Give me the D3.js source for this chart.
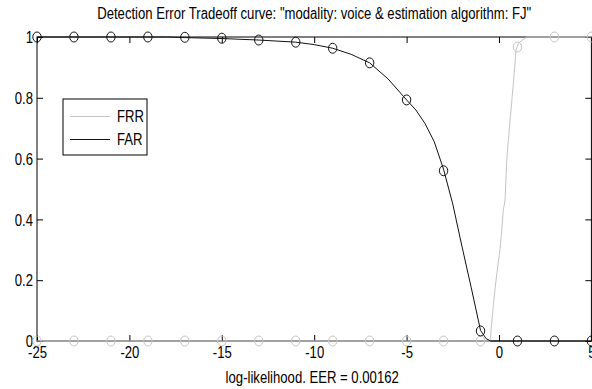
<!DOCTYPE html>
<html><head><meta charset="utf-8">
<script src="https://cdn.jsdelivr.net/npm/d3@7"></script>
<style>
body{margin:0;background:#fff;}
svg{display:block;}
text{font-family:"Liberation Sans",Arial,Helvetica,sans-serif;fill:#000;}
</style></head><body>
<svg id="c" width="592" height="389"></svg>
<script>
// ---------- data ----------
const xTicks = [-25, -20, -15, -10, -5, 0, 5];
const xTickLabels = ["-25", "-20", "-15", "-10", "-5", "0", "5"];
const yTicks = [0, 0.2, 0.4, 0.6, 0.8, 1];
const yTickLabels = ["0", "0.2", "0.4", "0.6", "0.8", "1"];
const seriesNames = ["FRR", "FAR"];

// FAR curve (black)
const farX = [-25, -18, -17, -15, -13, -11, -10, -9, -8, -7, -6, -5, -4.5, -4, -3.5, -3, -2.5, -2, -1.5, -1, -0.7, -0.45, 5];
const farY = [1, 1, 0.998, 0.995, 0.990, 0.983, 0.975, 0.963, 0.943, 0.915, 0.862, 0.793, 0.76, 0.715, 0.655, 0.565, 0.45, 0.31, 0.175, 0.035, 0.008, 0, 0];

// FRR curve (light grey)
const frrX = [-25, -0.48, -0.43, -0.3, -0.22, -0.12, 0.05, 0.15, 0.23, 0.33, 0.42, 0.6, 0.78, 0.92, 1.05, 1.5, 5];
const frrY = [0, 0, 0.036, 0.12, 0.168, 0.22, 0.30, 0.365, 0.43, 0.464, 0.595, 0.727, 0.849, 0.957, 0.98, 1, 1];

// marker positions and values
const markX = [-25, -23, -21, -19, -17, -15, -13, -11, -9, -7, -5, -3, -1, 1, 3, 5];
const farMarks = [1, 1, 1, 1, 0.999, 0.996, 0.99, 0.983, 0.963, 0.915, 0.793, 0.56, 0.033, 0, 0, 0];
const frrMarks = [0, 0, 0, 0, 0, 0, 0, 0, 0, 0, 0, 0, 0, 0.967, 1, 1];

const titleText = 'Detection Error Tradeoff curve: "modality: voice & estimation algorithm: FJ"';
const xLabelText = "log-likelihood. EER = 0.00162";

// ---------- layout ----------
const SX = 0.82;         // horizontal condensation of glyphs
const FS = 16;
const L = 37, R = 591.4, T = 37, B = 341;
const FRR_COLOR = "#c4c4c4", FAR_COLOR = "#111";

const svg = d3.select("#c");
const x = d3.scaleLinear().domain([-25, 5]).range([L, R]);
const y = d3.scaleLinear().domain([0, 1]).range([B, T]);

function addText(g, px, py, str, anchor, dy) {
  return g.append("text")
    .attr("transform", `translate(${px},${py}) scale(${SX},1)`)
    .attr("text-anchor", anchor)
    .attr("dy", dy || null)
    .attr("font-size", FS)
    .text(str);
}

// box
svg.append("rect").attr("x", L).attr("y", T).attr("width", R - L).attr("height", B - T)
  .attr("fill", "none").attr("stroke", "#000").attr("stroke-width", 1);

// axes (ticks inward)
const gB = svg.append("g").attr("transform", `translate(0,${B})`)
  .call(d3.axisBottom(x).tickValues(xTicks).tickSizeInner(-6).tickSizeOuter(0)
    .tickFormat((d, i) => xTickLabels[i]));
gB.selectAll("text").attr("y", 17.5).attr("dy", null).attr("font-size", FS)
  .attr("font-family", null).attr("transform", `scale(${SX},1)`);

const gT = svg.append("g").attr("transform", `translate(0,${T})`)
  .call(d3.axisTop(x).tickValues(xTicks).tickSizeInner(-6).tickSizeOuter(0).tickFormat(""));

const gL = svg.append("g").attr("transform", `translate(${L},0)`)
  .call(d3.axisLeft(y).tickValues(yTicks).tickSizeInner(-6).tickSizeOuter(0)
    .tickFormat((d, i) => yTickLabels[i]));
gL.selectAll("text").attr("x", -4 / SX).attr("dy", "0.36em").attr("font-size", FS)
  .attr("font-family", null).attr("transform", `scale(${SX},1)`);

const gR = svg.append("g").attr("transform", `translate(${R},0)`)
  .call(d3.axisRight(y).tickValues(yTicks).tickSizeInner(-6).tickSizeOuter(0).tickFormat(""));

[gB, gT, gL, gR].forEach(g => {
  g.select(".domain").remove();
  g.attr("color", "#000");
  g.selectAll("line").attr("stroke-width", 1);
});

// curves
const line = d3.line().x(d => x(d[0])).y(d => y(d[1]));
const frrData = frrX.map((v, i) => [v, frrY[i]]);
const farData = farX.map((v, i) => [v, farY[i]]);

svg.append("path").datum(frrData).attr("d", line)
  .attr("fill", "none").attr("stroke", FRR_COLOR).attr("stroke-width", 1);
svg.selectAll(".mfrr").data(markX.map((v, i) => [v, frrMarks[i]])).enter()
  .append("ellipse").attr("class", "mfrr")
  .attr("cx", d => x(d[0])).attr("cy", d => y(d[1])).attr("rx", 4.2).attr("ry", 5)
  .attr("fill", "none").attr("stroke", FRR_COLOR).attr("stroke-width", 1);

svg.append("path").datum(farData).attr("d", line)
  .attr("fill", "none").attr("stroke", FAR_COLOR).attr("stroke-width", 1);
svg.selectAll(".mfar").data(markX.map((v, i) => [v, farMarks[i]])).enter()
  .append("ellipse").attr("class", "mfar")
  .attr("cx", d => x(d[0])).attr("cy", d => y(d[1])).attr("rx", 4.2).attr("ry", 5)
  .attr("fill", "none").attr("stroke", FAR_COLOR).attr("stroke-width", 1);

// legend
const lg = svg.append("g");
lg.append("rect").attr("x", 63).attr("y", 99).attr("width", 84).attr("height", 56)
  .attr("fill", "#fff").attr("stroke", "#000").attr("stroke-width", 1);
const legColors = [FRR_COLOR, FAR_COLOR];
seriesNames.forEach((name, i) => {
  const ly = 116.5 + i * 23;
  lg.append("line").attr("x1", 70).attr("x2", 110).attr("y1", ly).attr("y2", ly)
    .attr("stroke", legColors[i]).attr("stroke-width", 1);
  addText(lg, 117, ly, name, "start", "0.36em");
});

// title and x label
addText(svg, (L + R) / 2, 19, titleText, "middle");
addText(svg, (L + R) / 2 - 2, 383, xLabelText, "middle");
</script>
</body></html>
